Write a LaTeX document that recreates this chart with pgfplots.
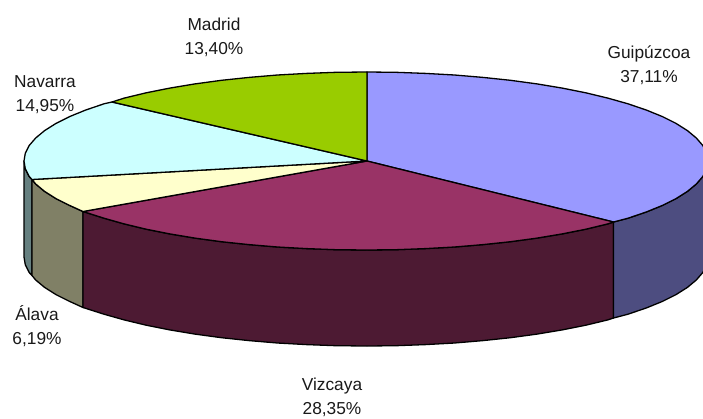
\documentclass[border=0pt]{standalone}
\usepackage{pgfplots}
\pgfplotsset{compat=1.18}
\usepackage{fontspec}
\setmainfont{Liberation Sans}
\definecolor{cGui}{HTML}{9999FF}
\definecolor{cGuiS}{HTML}{4D4D80}
\definecolor{cViz}{HTML}{993366}
\definecolor{cVizS}{HTML}{4D1A33}
\definecolor{cAla}{HTML}{FFFFCC}
\definecolor{cAlaS}{HTML}{808066}
\definecolor{cNav}{HTML}{CCFFFF}
\definecolor{cNavS}{HTML}{668080}
\definecolor{cMad}{HTML}{99CC00}
\tikzset{lbl/.style={font=\fontsize{17.3}{24}\selectfont, align=center, text=black!90, inner sep=0pt}}
\begin{document}
\begin{tikzpicture}
\useasboundingbox (0,0) rectangle (703pt,418pt);
\begin{axis}[
  at={(0,0)}, anchor=south west,
  scale only axis, width=703pt, height=418pt,
  xmin=0, xmax=703, ymin=0, ymax=418, y dir=reverse,
  hide axis,
  every axis plot/.append style={draw=black, line width=1.3pt, line join=round, mark=none},
]
% side walls
\addplot[fill=cNavS] coordinates {(24,161)(25.3,168.8)(29.2,176.5)(32,179.5)(32,275.5)(29.2,272.5)(25.3,264.8)(24,257)} -- cycle;
\addplot[fill=cAlaS] coordinates {(32,179.5)(35.7,184)(44.6,191.4)(56,198.6)(69.8,205.5)(83,211.5)(83,307.5)(69.8,301.5)(56,294.6)(44.6,287.4)(35.7,280)(32,275.5)} -- cycle;
\addplot[fill=cVizS] coordinates {(613.5,222)(607.8,223.9)(585.8,229.2)(562.2,233.9)(537,238.1)(510.5,241.7)(483,244.6)(454.5,247)(425.4,248.6)(395.8,249.7)(367,250)(336.2,249.7)(306.6,248.6)(277.5,247)(249,244.6)(221.5,241.7)(195,238.1)(169.8,233.9)(146.2,229.2)(124.2,223.9)(104,218.2)(83,211.5)(83,307.5)(104,314.2)(124.2,319.9)(146.2,325.2)(169.8,329.9)(195,334.1)(221.5,337.7)(249,340.6)(277.5,343)(306.6,344.6)(336.2,345.7)(367,346)(395.8,345.7)(425.4,344.6)(454.5,343)(483,340.6)(510.5,337.7)(537,334.1)(562.2,329.9)(585.8,325.2)(607.8,319.9)(613.5,318)} -- cycle;
\addplot[fill=cGuiS] coordinates {(708,161)(706.7,168.8)(702.8,176.5)(696.3,184)(687.4,191.4)(676,198.6)(662.2,205.5)(646.2,212)(628,218.2)(613.5,222)(613.5,318)(628,314.2)(646.2,308)(662.2,301.5)(676,294.6)(687.4,287.4)(696.3,280)(702.8,272.5)(706.7,264.8)(708,257)} -- cycle;
% top faces
\addplot[fill=cGui] coordinates {(367,161)(367,72)(395.8,72.3)(425.4,73.4)(454.5,75)(483,77.4)(510.5,80.3)(537,83.9)(562.2,88.1)(585.8,92.8)(607.8,98.1)(628,103.8)(646.2,110)(662.2,116.5)(676,123.4)(687.4,130.6)(696.3,138)(702.8,145.5)(706.7,153.2)(708,161)(706.7,168.8)(702.8,176.5)(696.3,184)(687.4,191.4)(676,198.6)(662.2,205.5)(646.2,212)(628,218.2)(613.5,222)} -- cycle;
\addplot[fill=cViz] coordinates {(367,161)(613.5,222)(607.8,223.9)(585.8,229.2)(562.2,233.9)(537,238.1)(510.5,241.7)(483,244.6)(454.5,247)(425.4,248.6)(395.8,249.7)(367,250)(336.2,249.7)(306.6,248.6)(277.5,247)(249,244.6)(221.5,241.7)(195,238.1)(169.8,233.9)(146.2,229.2)(124.2,223.9)(104,218.2)(83,211.5)} -- cycle;
\addplot[fill=cAla] coordinates {(367,161)(83,211.5)(69.8,205.5)(56,198.6)(44.6,191.4)(35.7,184)(32,179.5)} -- cycle;
\addplot[fill=cNav] coordinates {(367,161)(32,179.5)(29.2,176.5)(25.3,168.8)(24,161)(25.3,153.2)(29.2,145.5)(35.7,138)(44.6,130.6)(56,123.4)(69.8,116.5)(85.8,110)(104,103.8)(112,102)} -- cycle;
\addplot[fill=cMad] coordinates {(367,161)(112,102)(124.2,98.1)(146.2,92.8)(169.8,88.1)(195,83.9)(221.5,80.3)(249,77.4)(277.5,75)(306.6,73.4)(336.2,72.3)(367,72)} -- cycle;
% labels
\node[lbl] at (axis cs:214,37) {Madrid\\13,40\%};
\node[lbl] at (axis cs:649,65) {Guipúzcoa\\37,11\%};
\node[lbl] at (axis cs:45,95) {Navarra\\14,95\%};
\node[lbl] at (axis cs:37,326) {Álava\\6,19\%};
\node[lbl] at (axis cs:332,397) {Vizcaya\\28,35\%};
\end{axis}
\end{tikzpicture}
\end{document}
